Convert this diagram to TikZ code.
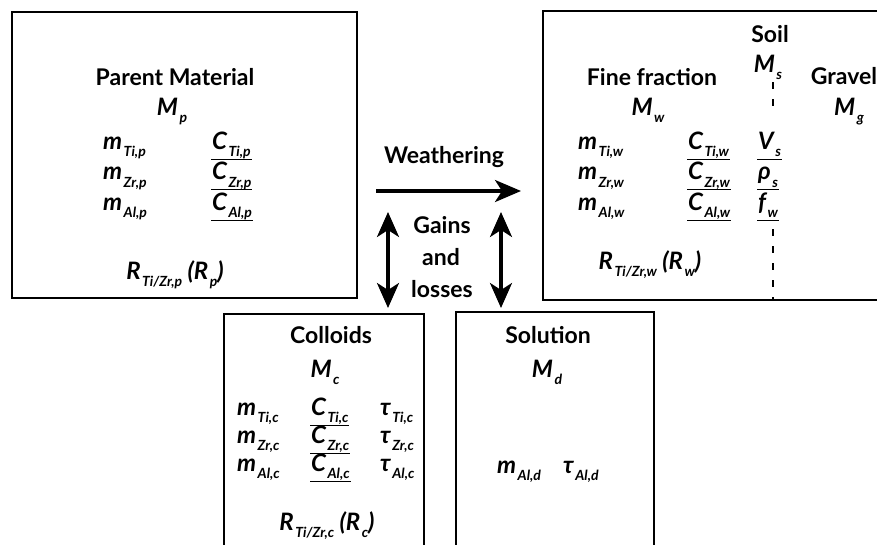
\documentclass[tikz,border=0pt]{standalone}
\usepackage{fontspec}
\setmainfont{Lato}
\usetikzlibrary{arrows.meta,positioning}

\newcommand\qsub[2]{#1\kern1.5pt\raisebox{-7.5pt}{\fontsize{14}{14}\selectfont #2}}
\newcommand\uqsub[2]{\setbox0\hbox{\qsub{#1}{#2}}\rlap{\kern-1pt\rule[-10.5pt]{\dimexpr\wd0+2pt\relax}{1pt}}\box0}

\begin{document}
\begin{tikzpicture}[
  x=1pt, y=-1pt,
  box/.style={draw, line width=1.8pt, inner sep=0pt},
  title/.style={font=\fontsize{23}{23}\selectfont\bfseries, anchor=base, inner sep=0pt},
  qty/.style={font=\fontsize{24}{24}\selectfont\bfseries\itshape, anchor=base west, inner sep=0pt},
  cqty/.style={qty, anchor=base},
  arrow/.style={-{Stealth[length=26pt, width=22pt, inset=7pt]}, line width=3.2pt},
  twoway/.style={{Stealth[length=25pt, width=22pt, inset=7pt]}-{Stealth[length=25pt, width=22pt, inset=7pt]}, line width=3.2pt},
  soildash/.style={line width=1.5pt, dash pattern=on 7pt off 10pt}
]
\useasboundingbox (0,0) rectangle (877,544);
\clip (0,0) rectangle (877,544);

% boxes
\node[box, minimum width=345pt, minimum height=286pt] (parent) at (184.5,155) {};
\node[box, minimum width=357pt, minimum height=289pt] (soil) at (721.5,155.5) {};
\node[box, minimum width=200pt, minimum height=256pt] (colloids) at (324,442) {};
\node[box, minimum width=198pt, minimum height=258pt] (solution) at (555,441) {};

% parent material
\node[title] (pmT) at (175,85) {Parent Material};
\node[cqty] (Mp) at (172,115) {\qsub{M}{p}};
\node[cqty] (Rp) at (175,279) {\qsub{R}{Ti/Zr,p} (\qsub{R}{p})};

% soil
\node[title] (soilT) at (770,42) {Soil};
\node[cqty] (Ms) at (768,72) {\qsub{M}{s}};
\node[title] (fineT) at (652,85) {Fine fraction};
\node[title] (gravelT) at (844,84) {Gravel};
\node[cqty] (Mw) at (648,115) {\qsub{M}{w}};
\node[cqty] (Mg) at (849,115) {\qsub{M}{g}};
\node[cqty] (Rw) at (650,269) {\qsub{R}{Ti/Zr,w} (\qsub{R}{w})};
\node[qty] (Vs) at (758,149) {\uqsub{V}{s}};
\node[qty] (rhos) at (758,179.5) {\uqsub{ρ}{s}};
\node[qty] (fw) at (758,210) {\uqsub{f}{w}};

\foreach \el/\yy [count=\i] in {Ti/149, Zr/179.5, Al/210} {
  \node[qty] (mp\i) at (103,\yy) {\qsub{m}{\el,p}};
  \node[qty] (cp\i) at (212,\yy) {\uqsub{C}{\el,p}};
  \node[qty] (mw\i) at (578,\yy) {\qsub{m}{\el,w}};
  \node[qty] (cw\i) at (688,\yy) {\uqsub{C}{\el,w}};
}

% colloids and solution
\node[title] (collT) at (331,343) {Colloids};
\node[cqty] (Mc) at (325,377) {\qsub{M}{c}};
\foreach \el/\yy [count=\i] in {Ti/415, Zr/443, Al/471} {
  \node[qty] (mc\i) at (237,\yy) {\qsub{m}{\el,c}};
  \node[qty] (cc\i) at (311,\yy) {\uqsub{C}{\el,c}};
  \node[qty] (tc\i) at (380,\yy) {\qsub{τ}{\el,c}};
}
\node[cqty] (Rc) at (327,530) {\qsub{R}{Ti/Zr,c} (\qsub{R}{c})};
\node[title] (solT) at (548,343) {Solution};
\node[cqty] (Md) at (547,377) {\qsub{M}{d}};
\node[qty] (md) at (497,473) {\qsub{m}{Al,d}};
\node[qty] (td) at (563,473) {\qsub{τ}{Al,d}};

% fluxes
\node[title] (weathT) at (444,163) {Weathering};
\node[title] (gainsT) at (442,233) {Gains};
\node[title] (andT) at (441,265) {and};
\node[title] (lossT) at (442,297) {losses};

\coordinate (w1) at (376,191);
\coordinate (w2) at (521,191);
\coordinate (g1) at (388,212);
\coordinate (g2) at (388,308);
\coordinate (h1) at (501,212);
\coordinate (h2) at (501,308);
\draw[arrow] (w1) -- (w2);
\foreach \a/\b in {g1/g2, h1/h2}
  \draw[twoway] (\a) -- (\b);

\coordinate (d1) at (773,82);
\coordinate (d2) at (773,112);
\coordinate (d3) at (773,229);
\coordinate (d4) at (773,300);
\draw[soildash] (d1) -- (d2);
\draw[soildash] (d3) -- (d4);
\end{tikzpicture}
\end{document}
